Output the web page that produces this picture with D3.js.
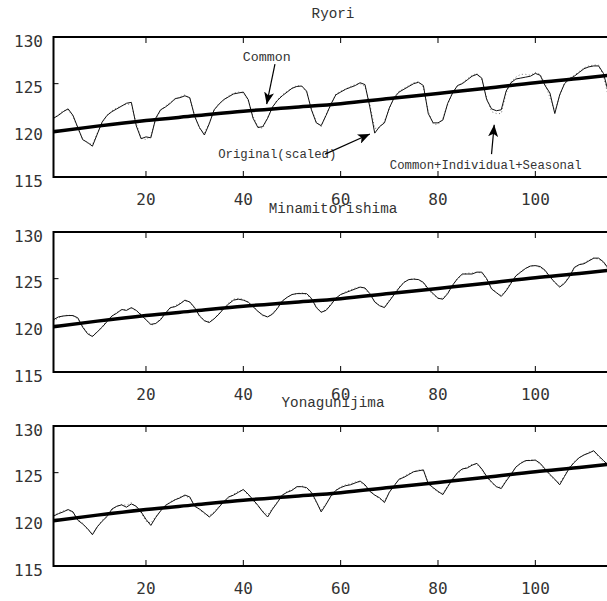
<!DOCTYPE html>
<html>
<head>
<meta charset="utf-8">
<script src="https://cdn.jsdelivr.net/npm/d3@7"></script>
<style>
  body { margin: 0; background: #fff; }
  svg { display: block; }
</style>
</head>
<body>
<div id="chart"></div>
<script>
// station names (panel titles)
const stations = ["Ryori", "Minamitorishima", "Yonagunijima"];

// x ticks and y ticks
const xTicks = [20, 40, 60, 80, 100];
const yTicks = [115, 120, 125, 130];

// common component (smooth trend), read at a few months
const commonMonths = [1, 10, 20, 30, 40, 50, 60, 70, 80, 90, 100, 110, 115];
const commonValues = [119.85, 120.45, 121.05, 121.55, 122.05, 122.45, 122.85, 123.4, 123.95, 124.5, 125.1, 125.6, 125.9];

// monthly series, months 1..115
const ryoriOriginal = [121.3,121.6,122.0,122.3,121.6,120.3,119.0,118.7,118.3,119.6,
  120.9,121.6,122.0,122.3,122.6,122.9,123.0,120.5,119.1,119.3,
  119.2,121.3,122.2,122.5,122.9,123.4,123.5,123.7,123.5,121.5,
  120.3,119.5,120.7,122.2,122.8,123.3,123.6,123.9,124.0,124.1,
  123.3,121.3,120.3,120.4,121.3,122.5,123.2,123.7,124.1,124.5,
  124.7,124.75,124.2,122.2,120.8,120.5,121.6,122.8,123.8,124.1,
  124.4,124.6,124.8,125.1,124.9,122.5,119.7,120.4,120.8,122.4,
  123.5,124.1,124.4,124.7,125.0,125.15,124.8,121.8,120.8,120.8,
  121.1,122.9,124.0,124.8,125.0,125.4,125.8,126.0,125.6,123.3,
  122.3,122.1,122.2,124.2,125.1,125.5,125.6,125.7,125.8,126.1,
  125.9,124.8,124.0,121.8,123.8,125.0,125.5,125.8,126.2,126.6,
  126.8,126.9,126.9,126.1,124.1];
const ryoriFitted = [121.2,121.7,122.1,122.2,121.5,120.2,119.1,118.6,118.5,119.7,
  120.8,121.6,122.1,122.4,122.6,122.8,122.8,120.7,119.2,119.0,
  119.4,121.2,122.1,122.6,123.0,123.3,123.6,123.8,123.4,121.6,
  120.2,119.7,120.8,122.1,122.9,123.2,123.7,124.0,124.1,124.0,
  123.2,121.5,120.4,120.2,121.4,122.4,123.3,123.8,124.2,124.5,
  124.8,124.7,124.1,122.3,120.9,120.4,121.7,122.7,123.9,124.2,
  124.4,124.7,124.9,125.0,124.7,122.8,120.2,120.3,121.0,122.3,
  123.6,124.2,124.5,124.8,125.1,125.2,124.6,122.0,120.7,120.6,
  121.3,122.8,124.1,124.7,125.1,125.5,125.9,126.1,125.4,123.5,
  122.0,121.8,121.8,124.0,125.2,125.7,126.0,126.0,125.9,126.2,
  126.0,125.0,123.5,122.0,123.7,125.1,125.6,125.9,126.3,126.7,
  126.9,127.0,127.0,125.8,123.6];

const minamiOriginal = [120.6,120.9,121.0,121.05,121.05,120.8,119.8,119.1,118.8,119.3,
  119.8,120.4,121.0,121.3,121.7,121.6,121.9,121.6,121.1,120.6,
  120.1,120.2,120.6,121.3,121.9,122.0,122.3,122.7,122.5,121.9,
  121.0,120.5,120.3,120.7,121.2,121.8,122.3,122.7,122.8,122.7,
  122.5,122.0,121.5,121.1,120.9,121.2,121.8,122.6,123.0,123.3,
  123.4,123.4,123.4,122.9,121.9,121.4,121.6,122.2,122.9,123.3,
  123.5,123.7,123.9,124.1,124.0,123.4,122.5,122.1,121.9,122.6,
  123.3,124.0,124.6,124.9,124.95,124.9,124.6,123.9,123.4,122.9,
  122.8,123.4,124.3,125.0,125.5,125.5,125.5,125.7,125.7,125.0,
  123.9,123.5,123.1,123.7,124.5,125.3,125.7,126.1,126.35,126.4,
  126.3,125.9,125.2,124.6,124.1,124.5,125.2,126.2,126.5,126.6,
  126.9,127.2,127.2,126.8,126.1];
const minamiFitted = [120.4,120.8,121.0,121.1,121.0,120.7,119.9,119.2,118.9,119.3,
  119.9,120.5,121.0,121.4,121.6,121.7,121.8,121.6,121.2,120.6,
  120.0,120.2,120.7,121.3,121.8,122.1,122.4,122.6,122.5,121.8,
  121.1,120.5,120.4,120.7,121.3,121.9,122.4,122.8,122.9,122.8,
  122.4,122.1,121.5,121.0,120.9,121.3,121.9,122.6,123.0,123.3,
  123.4,123.5,123.3,122.8,122.0,121.4,121.7,122.3,122.9,123.3,
  123.6,123.8,124.0,124.1,123.9,123.3,122.6,122.1,122.0,122.7,
  123.4,124.1,124.6,124.9,125.0,124.9,124.5,123.8,123.3,122.9,
  122.9,123.5,124.3,125.0,125.4,125.6,125.6,125.7,125.6,124.9,
  124.0,123.5,123.2,123.8,124.6,125.3,125.8,126.1,126.4,126.4,
  126.2,125.8,125.2,124.6,124.2,124.6,125.3,126.1,126.5,126.7,
  127.0,127.2,127.1,126.7,126.0];

const yonaOriginal = [120.35,120.6,120.8,121.05,120.8,119.9,119.5,119.0,118.35,119.2,
  119.8,120.3,121.1,121.4,121.55,121.3,121.65,121.4,120.8,120.0,
  119.35,120.2,120.9,121.5,121.8,122.1,122.3,122.6,122.4,121.4,
  121.1,120.7,120.25,120.7,121.3,121.9,122.4,122.6,122.9,123.2,
  122.7,122.1,121.5,120.8,120.25,121.1,121.8,122.6,122.9,123.1,
  123.5,123.5,123.4,122.9,121.9,120.8,121.6,122.5,123.1,123.4,
  123.6,123.7,123.9,124.1,123.7,123.0,122.6,122.3,121.8,122.9,
  123.6,124.3,124.5,124.8,125.1,125.2,125.3,123.8,123.4,123.0,
  122.65,123.5,124.3,125.0,125.4,125.5,125.8,126.0,125.4,124.6,
  124.0,123.5,123.3,124.1,124.8,125.6,126.0,126.3,126.3,126.35,
  126.0,125.4,124.8,124.3,123.7,124.6,125.5,126.1,126.6,126.9,
  127.1,127.35,126.8,126.3,125.8];
const yonaFitted = [120.4,120.7,120.9,121.0,120.7,120.0,119.6,118.9,118.5,119.2,
  119.9,120.4,121.0,121.4,121.6,121.5,121.8,121.3,120.7,119.8,
  119.6,120.3,120.9,121.4,121.9,122.1,122.4,122.5,122.3,121.5,
  121.0,120.6,120.4,120.8,121.4,121.9,122.3,122.7,123.0,123.1,
  122.6,122.0,121.4,120.9,120.5,121.2,121.9,122.5,123.0,123.2,
  123.4,123.6,123.3,122.8,121.8,121.0,121.7,122.4,123.1,123.5,
  123.7,123.8,124.0,124.0,123.6,123.1,122.6,122.2,122.0,122.9,
  123.7,124.2,124.6,124.9,125.1,125.3,125.2,124.0,123.3,122.9,
  122.8,123.6,124.4,124.9,125.3,125.6,125.9,125.9,125.3,124.5,
  123.9,123.5,123.4,124.2,124.9,125.6,126.1,126.2,126.4,126.3,
  125.9,125.3,124.7,124.2,123.9,124.7,125.6,126.2,126.6,126.9,
  127.2,127.3,126.7,126.1,125.7];

// annotations on the first panel: label, text anchor point, arrow tail, arrow tip (data units)
const annotations = [
  { text: "Common", size: 13.3, at: [39.9, 127.4], from: [46.5, 127.1], to: [44.8, 122.8] },
  { text: "Original(scaled)", size: 12.3, at: [34.85, 117.0], from: [56.8, 117.45], to: [66.0, 119.6] },
  { text: "Common+Individual+Seasonal", size: 12.3, at: [70.1, 115.85], from: [91.0, 117.45], to: [91.55, 120.6] }
];

const W = 607, H = 601;
const left = 53.5;
const panelTops = [37, 232, 426];
const panelH = 140;

const svg = d3.select("#chart").append("svg")
  .attr("width", W).attr("height", H)
  .style("background", "#fff");

svg.append("defs").append("marker")
  .attr("id", "arrow")
  .attr("viewBox", "0 0 12 10")
  .attr("refX", 12).attr("refY", 5)
  .attr("markerWidth", 12).attr("markerHeight", 10)
  .attr("markerUnits", "userSpaceOnUse")
  .attr("orient", "auto")
  .append("path")
  .attr("d", "M0,0 L12,5 L0,10 L3,5 Z")
  .attr("fill", "#000");

const x = d3.scaleLinear().domain([1, 115]).range([left, left + 114 * 4.867]);
const months = ryoriOriginal.map((d, i) => i + 1);

const series = [
  { name: stations[0], orig: ryoriOriginal, fit: ryoriFitted },
  { name: stations[1], orig: minamiOriginal, fit: minamiFitted },
  { name: stations[2], orig: yonaOriginal, fit: yonaFitted }
];

series.forEach((s, i) => {
  const top = panelTops[i];
  const bottom = top + panelH;
  const y = d3.scaleLinear().domain([115, 130]).range([bottom, top]);
  const g = svg.append("g");

  const clipId = "clip" + i;
  svg.select("defs").append("clipPath").attr("id", clipId)
    .append("rect").attr("x", left).attr("y", top).attr("width", W - left + 5).attr("height", panelH);

  const lines = g.append("g").attr("clip-path", `url(#${clipId})`);

  const monthly = d3.line().x((d, j) => x(months[j])).y(d => y(d));

  // fitted (common + individual + seasonal): faint dotted
  lines.append("path")
    .attr("d", monthly(s.fit))
    .attr("fill", "none")
    .attr("stroke", "#777")
    .attr("stroke-width", 1)
    .attr("stroke-dasharray", "1,2.5");

  // original (scaled)
  lines.append("path")
    .attr("d", monthly(s.orig))
    .attr("fill", "none")
    .attr("stroke", "#111")
    .attr("stroke-width", 1);

  // common trend
  const trend = d3.line()
    .x((d, j) => x(commonMonths[j]))
    .y(d => y(d))
    .curve(d3.curveMonotoneX);
  lines.append("path")
    .attr("d", trend(commonValues))
    .attr("fill", "none")
    .attr("stroke", "#000")
    .attr("stroke-width", 3.5);

  // frame: left, top, bottom
  g.append("line").attr("x1", left).attr("x2", left).attr("y1", top - 1).attr("y2", bottom + 1)
    .attr("stroke", "#000").attr("stroke-width", 2);
  [top, bottom].forEach(yy => {
    g.append("line").attr("x1", left).attr("x2", W + 2).attr("y1", yy).attr("y2", yy)
      .attr("stroke", "#000").attr("stroke-width", 2);
  });

  // inward x ticks at top and bottom
  xTicks.forEach(t => {
    g.append("line").attr("x1", x(t)).attr("x2", x(t)).attr("y1", top).attr("y2", top + 6)
      .attr("stroke", "#000").attr("stroke-width", 1);
    g.append("line").attr("x1", x(t)).attr("x2", x(t)).attr("y1", bottom).attr("y2", bottom - 6)
      .attr("stroke", "#000").attr("stroke-width", 1);
    g.append("text")
      .attr("x", x(t)).attr("y", bottom + 28)
      .attr("text-anchor", "middle")
      .attr("font-family", "DejaVu Sans Mono")
      .attr("font-size", 16)
      .attr("fill", "#333")
      .text(t);
  });

  // y ticks and labels
  yTicks.forEach(t => {
    g.append("line").attr("x1", left).attr("x2", left + 5).attr("y1", y(t)).attr("y2", y(t))
      .attr("stroke", "#000").attr("stroke-width", 1);
    g.append("text")
      .attr("x", 43).attr("y", y(t) + 9.6)
      .attr("text-anchor", "end")
      .attr("font-family", "DejaVu Sans Mono")
      .attr("font-size", 16)
      .attr("fill", "#333")
      .text(t);
  });

  // title
  g.append("text")
    .attr("x", 333).attr("y", top - 19)
    .attr("text-anchor", "middle")
    .attr("font-family", "Liberation Mono")
    .attr("font-size", 14.3)
    .attr("fill", "#333")
    .text(s.name);

  if (i === 0) {
    annotations.forEach(a => {
      g.append("text")
        .attr("x", x(a.at[0])).attr("y", y(a.at[1]))
        .attr("font-family", "Liberation Mono")
        .attr("font-size", a.size)
        .attr("fill", "#333")
        .text(a.text);
      g.append("line")
        .attr("x1", x(a.from[0])).attr("y1", y(a.from[1]))
        .attr("x2", x(a.to[0])).attr("y2", y(a.to[1]))
        .attr("stroke", "#000").attr("stroke-width", 1.2)
        .attr("marker-end", "url(#arrow)");
    });
  }
});
</script>
</body>
</html>
